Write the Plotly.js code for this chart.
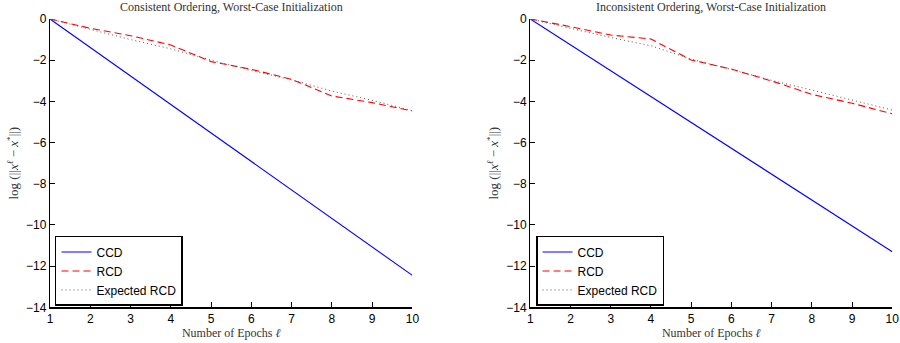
<!DOCTYPE html>
<html>
<head>
<meta charset="utf-8">
<script src="https://cdn.plot.ly/plotly-3.0.1.min.js"></script>
<style>html,body{margin:0;padding:0;background:#fff;}#chart{width:900px;height:343px;}</style>
</head>
<body>
<div id="chart"></div>
<script>
const epochs = [1, 2, 3, 4, 5, 6, 7, 8, 9, 10];

// Left panel: Consistent Ordering
const ccdConsistent = [0, -1.38, -2.77, -4.15, -5.53, -6.92, -8.30, -9.68, -11.07, -12.45];
const rcdConsistent = [0, -0.45, -0.81, -1.26, -2.07, -2.44, -2.93, -3.74, -4.06, -4.47];
const expConsistent = [0, -0.50, -1.00, -1.45, -2.00, -2.50, -2.95, -3.50, -3.95, -4.45];

// Right panel: Inconsistent Ordering
const ccdInconsistent = [0, -1.26, -2.51, -3.77, -5.02, -6.28, -7.53, -8.79, -10.04, -11.30];
const rcdInconsistent = [0, -0.37, -0.78, -0.97, -1.99, -2.43, -3.01, -3.66, -4.09, -4.60];
const expInconsistent = [0, -0.45, -0.90, -1.30, -1.95, -2.45, -2.98, -3.45, -3.93, -4.42];

const titles = ['Consistent Ordering, Worst-Case Initialization', 'Inconsistent Ordering, Worst-Case Initialization'];
const seriesNames = ['CCD', 'RCD', 'Expected RCD'];
const xTitle = 'Number of Epochs <i>ℓ</i>';
const yTitle = 'log (||<i>x</i><sup><i>ℓ</i></sup> − <i>x</i><sup>*</sup>||)';

const serif = 'Liberation Serif, Times New Roman, serif';
const sans = 'Liberation Sans, Arial, Helvetica, sans-serif';

const styles = [
  {color: '#0000ff', width: 1.1, dash: 'solid'},
  {color: '#ff0000', width: 1.1, dash: '7px,4px'},
  {color: '#555555', width: 1, dash: '1px,3px'}
];

function makeTraces(ys, xa, ya, lg) {
  return ys.map((y, i) => ({
    x: epochs, y: y, type: 'scatter', mode: 'lines',
    name: seriesNames[i], xaxis: xa, yaxis: ya, legend: lg,
    line: styles[i]
  }));
}

const traces = [].concat(
  makeTraces([ccdConsistent, rcdConsistent, expConsistent], 'x', 'y', 'legend'),
  makeTraces([ccdInconsistent, rcdInconsistent, expInconsistent], 'x2', 'y2', 'legend2')
);

const yDom = [0.104, 0.9446];
function xAxis(dom) {
  return {
    domain: dom, range: [1, 10], dtick: 1, tick0: 1,
    showline: true, linecolor: '#000', linewidth: 1.3,
    ticks: 'inside', ticklen: 5, tickcolor: '#000', tickwidth: 1,
    showgrid: false, zeroline: false, mirror: false,
    tickfont: {family: sans, size: 12, color: '#000'},
    title: {text: xTitle, font: {family: serif, size: 12, color: '#333'}, standoff: 1},
    automargin: false
  };
}
function yAxis(anchor) {
  return {
    domain: yDom, range: [-14, 0], dtick: 2, anchor: anchor,
    showline: true, linecolor: '#000', linewidth: 1.3,
    ticks: 'inside', ticklen: 5, tickcolor: '#000', tickwidth: 1,
    showgrid: false, zeroline: false, mirror: false,
    tickfont: {family: sans, size: 12, color: '#000'},
    title: {text: yTitle, font: {family: serif, size: 13, color: '#333'}, standoff: 4},
    automargin: false
  };
}
function legendCfg(x) {
  return {
    x: x, y: 0.108, xanchor: 'left', yanchor: 'bottom',
    xref: 'paper', yref: 'paper',
    bgcolor: '#fff', bordercolor: '#000', borderwidth: 1.5,
    font: {family: sans, size: 12, color: '#000'},
    itemwidth: 30, tracegroupgap: 0
  };
}

const layout = {
  width: 900, height: 343,
  margin: {l: 0, r: 0, t: 0, b: 0},
  paper_bgcolor: '#fff', plot_bgcolor: '#fff',
  showlegend: true,
  xaxis: Object.assign(xAxis([0.0556, 0.4582]), {anchor: 'y'}),
  yaxis: yAxis('x'),
  xaxis2: Object.assign(xAxis([0.5892, 0.9914]), {anchor: 'y2'}),
  yaxis2: yAxis('x2'),
  legend: legendCfg(0.0611),
  legend2: legendCfg(0.5956),
  annotations: [
    {text: titles[0], x: (0.0556 + 0.4582) / 2, y: 0.98, xref: 'paper', yref: 'paper',
     xanchor: 'center', yanchor: 'middle', showarrow: false,
     font: {family: serif, size: 12, color: '#333'}},
    {text: titles[1], x: (0.5892 + 0.9914) / 2, y: 0.98, xref: 'paper', yref: 'paper',
     xanchor: 'center', yanchor: 'middle', showarrow: false,
     font: {family: serif, size: 12, color: '#333'}}
  ]
};

Plotly.newPlot('chart', traces, layout, {displayModeBar: false, staticPlot: true});
</script>
</body>
</html>
